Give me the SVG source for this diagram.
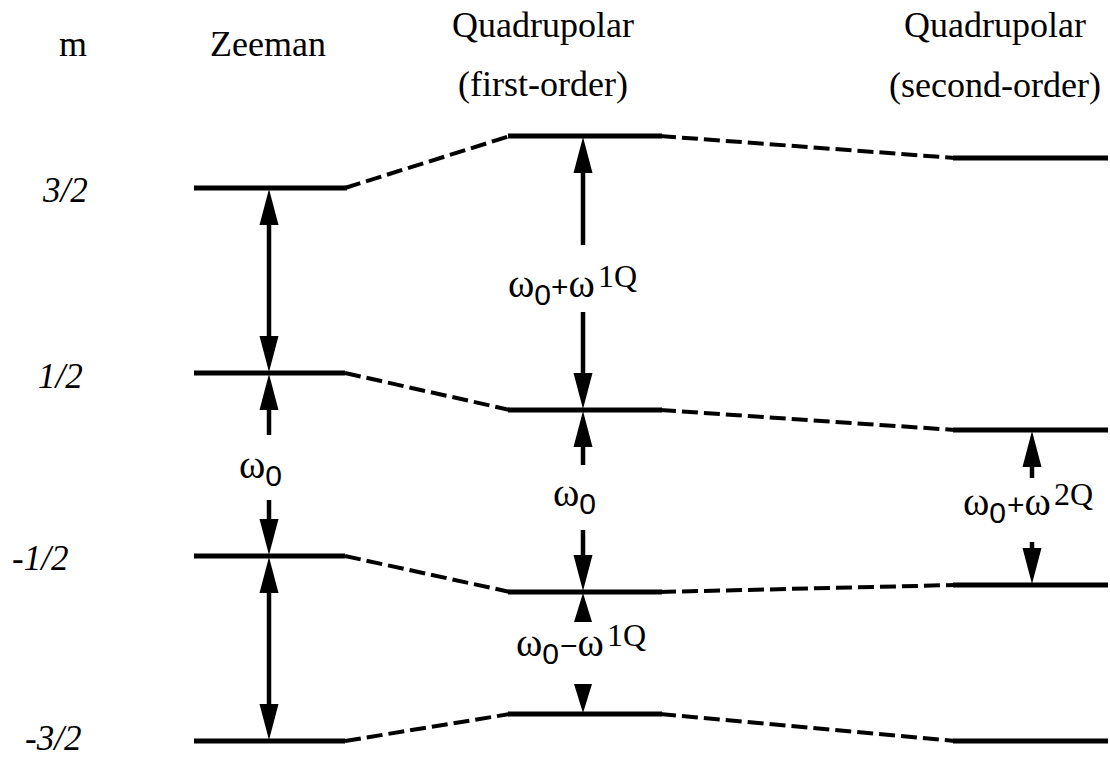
<svg xmlns="http://www.w3.org/2000/svg" xmlns:xlink="http://www.w3.org/1999/xlink" width="1110" height="759" viewBox="0 0 1110 759">
<style>
.bg{fill:#ffffff}
.lvl{stroke:#000;stroke-width:5;fill:none}
.dash{stroke:#000;stroke-width:4;fill:none;stroke-dasharray:16 6}
.stem{stroke:#000;stroke-width:4.5;fill:none}
.head{fill:#000}
.hdr{font-family:"Liberation Serif","Times New Roman","DejaVu Serif",serif;font-size:36px;fill:#000}
.m{font-family:"Liberation Serif","Times New Roman","DejaVu Serif",serif;font-size:35px;font-style:italic;fill:#000}
.om{font-family:"Liberation Serif","Times New Roman","DejaVu Serif",serif;font-size:40px;fill:#000}
.sub{font-family:"Liberation Sans",Arial,sans-serif;font-size:30px}
.op{font-family:"Liberation Sans",Arial,sans-serif;font-size:30px}
.sup{font-family:"Liberation Serif","Times New Roman","DejaVu Serif",serif;font-size:32px}
</style>
<defs>
<path id="hd" class="head" d="M0,0 L-9.5,-36 L9.5,-36 Z"/>
<path id="hu" class="head" d="M0,0 L-9.5,36 L9.5,36 Z"/>
<path id="sd" class="head" d="M0,0 L-9,-29 L9,-29 Z"/>
<path id="su" class="head" d="M0,0 L-9,29 L9,29 Z"/>
</defs>
<rect class="bg" x="0" y="0" width="1110" height="759"/>

<g id="headers">
<text class="hdr" x="59" y="56">m</text>
<text class="hdr" x="268" y="56" text-anchor="middle">Zeeman</text>
<text class="hdr" x="543" y="37" text-anchor="middle">Quadrupolar</text>
<text class="hdr" x="543" y="96" text-anchor="middle">(first-order)</text>
<text class="hdr" x="995" y="37" text-anchor="middle">Quadrupolar</text>
<text class="hdr" x="995" y="97" text-anchor="middle">(second-order)</text>
</g>

<g id="m-labels">
<text class="m" x="43" y="202">3/2</text>
<text class="m" x="38" y="388">1/2</text>
<text class="m" x="12" y="570">-1/2</text>
<text class="m" x="25" y="750">-3/2</text>
</g>

<g id="connectors">
<line class="dash" x1="345" y1="188" x2="510" y2="136"/>
<line class="dash" x1="660" y1="136" x2="955" y2="158"/>
<line class="dash" x1="345" y1="373" x2="510" y2="410"/>
<line class="dash" x1="660" y1="410" x2="955" y2="430"/>
<line class="dash" x1="345" y1="556" x2="510" y2="592"/>
<line class="dash" x1="660" y1="592" x2="955" y2="585"/>
<line class="dash" x1="345" y1="741" x2="510" y2="714"/>
<line class="dash" x1="660" y1="714" x2="955" y2="741"/>
</g>

<g id="zeeman">
<line class="lvl" x1="194" y1="188" x2="347" y2="188"/>
<line class="lvl" x1="194" y1="373" x2="345" y2="373"/>
<line class="lvl" x1="194" y1="556" x2="345" y2="556"/>
<line class="lvl" x1="194" y1="741" x2="345" y2="741"/>
</g>

<g id="first-order">
<line class="lvl" x1="508" y1="136" x2="662" y2="136"/>
<line class="lvl" x1="508" y1="410" x2="662" y2="410"/>
<line class="lvl" x1="508" y1="592" x2="662" y2="592"/>
<line class="lvl" x1="508" y1="714" x2="662" y2="714"/>
</g>

<g id="second-order">
<line class="lvl" x1="953" y1="158" x2="1108" y2="158"/>
<line class="lvl" x1="953" y1="430" x2="1108" y2="430"/>
<line class="lvl" x1="953" y1="585" x2="1108" y2="585"/>
<line class="lvl" x1="953" y1="741" x2="1108" y2="741"/>
</g>

<g id="zeeman-arrows">
<line class="stem" x1="269" y1="220" x2="269" y2="341"/>
<use xlink:href="#hu" x="269" y="189"/>
<use xlink:href="#hd" x="269" y="372"/>
<line class="stem" x1="269" y1="405" x2="269" y2="435"/>
<use xlink:href="#hu" x="269" y="374"/>
<line class="stem" x1="269" y1="500" x2="269" y2="525"/>
<use xlink:href="#hd" x="269" y="555"/>
<line class="stem" x1="269" y1="588" x2="269" y2="709"/>
<use xlink:href="#hu" x="269" y="557"/>
<use xlink:href="#hd" x="269" y="740"/>
</g>

<g id="first-order-arrows">
<line class="stem" x1="583" y1="168" x2="583" y2="245"/>
<use xlink:href="#hu" x="583" y="137"/>
<line class="stem" x1="583" y1="312" x2="583" y2="378"/>
<use xlink:href="#hd" x="583" y="409"/>
<line class="stem" x1="583" y1="442" x2="583" y2="465"/>
<use xlink:href="#hu" x="583" y="411"/>
<line class="stem" x1="583" y1="530" x2="583" y2="560"/>
<use xlink:href="#hd" x="583" y="591"/>
<use xlink:href="#su" x="583" y="593"/>
<use xlink:href="#sd" x="583" y="713"/>
</g>

<g id="second-order-arrows">
<line class="stem" x1="1032" y1="460" x2="1032" y2="478"/>
<use xlink:href="#hu" x="1032" y="431"/>
<line class="stem" x1="1032" y1="542" x2="1032" y2="555"/>
<use xlink:href="#hd" x="1032" y="584"/>
</g>

<g id="freq-labels">
<text class="om" x="239" y="478">ω<tspan class="sub" dy="8">0</tspan></text>
<text class="om" x="508" y="297">ω<tspan class="sub" dy="8">0</tspan><tspan class="op" dy="-8">+</tspan>ω<tspan class="sup" dx="3" dy="-10">1Q</tspan></text>
<text class="om" x="553" y="506">ω<tspan class="sub" dy="8">0</tspan></text>
<text class="om" x="516" y="656">ω<tspan class="sub" dy="8">0</tspan><tspan class="op" dx="1" dy="-8">−</tspan>ω<tspan class="sup" dx="3" dy="-10">1Q</tspan></text>
<text class="om" x="963" y="515">ω<tspan class="sub" dy="8">0</tspan><tspan class="op" dx="1" dy="-8">+</tspan>ω<tspan class="sup" dx="3" dy="-10" font-size="34">2Q</tspan></text>
</g>
</svg>
